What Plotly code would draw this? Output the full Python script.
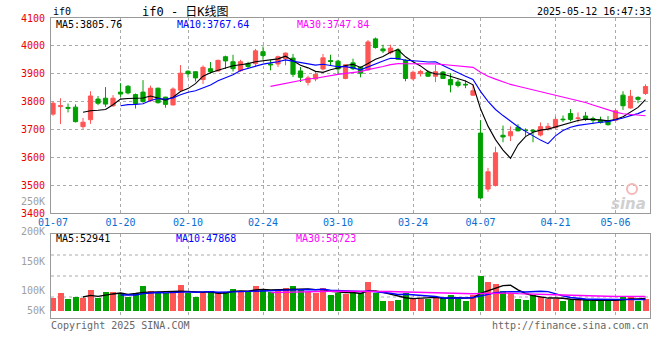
import plotly.graph_objects as go
import pandas as pd

# ---------------- data ----------------
dates = ["01-07","01-08","01-09","01-10","01-13","01-14","01-15","01-16","01-17",
         "01-20","01-21","01-22","01-23","01-24","01-27",
         "02-05","02-06","02-07","02-10","02-11","02-12","02-13","02-14",
         "02-17","02-18","02-19","02-20","02-21","02-24","02-25","02-26","02-27","02-28",
         "03-03","03-04","03-05","03-06","03-07","03-10","03-11","03-12","03-13","03-14",
         "03-17","03-18","03-19","03-20","03-21","03-24","03-25","03-26","03-27","03-28","03-31",
         "04-01","04-02","04-03","04-07","04-08","04-09","04-10","04-11",
         "04-14","04-15","04-16","04-17","04-18","04-21","04-22","04-23","04-24","04-25",
         "04-28","04-29","04-30","05-06","05-07","05-08","05-09","05-12"]

opens = [3755,3782,3779,3780,3710,3735,3809,3812,3785,3834,3855,3825,3834,3803,3848,
         3816,3788,3841,3909,3907,3879,3918,3910,3961,3943,3911,3936,3936,3979,3935,
         3935,3954,3956,3910,3869,3881,3917,3947,3945,3883,3939,3923,3914,4025,3989,
         3976,3986,3949,3882,3900,3905,3891,3906,3879,3870,3862,3823,3687,3486,3499,
         3679,3677,3708,3698,3697,3680,3704,3706,3737,3757,3739,3748,3739,3733,3731,
         3733,3823,3777,3815,3829]
highs = [3799,3812,3793,3790,3741,3837,3820,3852,3823,3866,3859,3829,3877,3857,3850,
         3817,3851,3931,3912,3909,3930,3942,3950,3965,3968,3950,3943,3989,3998,3950,
         3965,3976,3971,3924,3893,3908,3971,3968,3950,3932,3954,3926,4021,4030,4004,
         4004,3992,3952,3911,3914,3912,3931,3910,3902,3879,3876,3861,3733,3562,3638,
         3714,3711,3719,3704,3701,3725,3723,3746,3750,3773,3761,3763,3746,3746,3748,
         3773,3837,3842,3819,3862]
lows = [3749,3719,3761,3725,3702,3720,3787,3781,3781,3817,3826,3775,3796,3799,3793,
        3778,3786,3838,3886,3872,3863,3900,3907,3917,3908,3907,3918,3924,3950,3912,
        3924,3930,3888,3870,3858,3873,3912,3930,3899,3880,3913,3887,3911,3990,3974,
        3970,3950,3873,3876,3890,3888,3870,3881,3833,3851,3848,3821,3451,3476,3495,
        3654,3658,3693,3677,3654,3675,3695,3704,3727,3729,3725,3730,3719,3721,3714,
        3730,3770,3775,3794,3824]
closes = [3794,3785,3776,3728,3726,3820,3794,3791,3812,3827,3831,3793,3800,3848,3796,
          3790,3845,3902,3900,3885,3923,3907,3948,3946,3918,3943,3926,3982,3965,3932,
          3961,3974,3898,3887,3885,3898,3957,3944,3917,3932,3918,3902,4014,3994,3982,
          3992,3952,3883,3905,3908,3891,3907,3883,3860,3858,3860,3839,3454,3548,3616,
          3673,3692,3695,3696,3694,3710,3711,3736,3735,3736,3741,3737,3733,3725,3717,
          3767,3785,3819,3808,3854]
volumes = [54600,75600,50400,58800,54600,88200,56000,79800,79800,72800,58800,75600,105000,
           84000,74200,74200,75600,109200,74200,58800,75600,84000,79800,79800,92400,84000,
           79800,105000,92400,79800,88200,96600,105000,92400,79800,75600,96600,67200,75600,
           71400,77000,77000,121800,74200,42000,42000,46200,74200,56000,49000,49000,57400,
           56000,65800,49000,42000,65800,148400,121800,113400,84000,74200,50400,46200,67200,
           57400,50400,51800,42000,44800,44800,49000,42000,42000,42000,50400,57400,63000,
           42000,50400]

tick_labels = ["01-07","01-20","02-10","02-24","03-10","03-24","04-07","04-21","05-06"]
price_ticks = [3400, 3500, 3600, 3700, 3800, 3900, 4000, 4100]
vol_axis_labels = ["250K", "200K", "150K", "100K", "50K"]
price_ma_labels = ["MA5:3805.76", "MA10:3767.64", "MA30:3747.84"]
vol_ma_labels = ["MA5:52941", "MA10:47868", "MA30:58723"]
title_text = "if0 - 日K线图"
symbol_text = "if0"
time_text = "2025-05-12 16:47:33"
copyright_text = "Copyright 2025 SINA.COM"
url_text = "http://finance.sina.com.cn"

# ---------------- styling ----------------
RED = "#ff5555"
GREEN = "#00a000"
MA_COLORS = ["#000000", "#0000ff", "#ff00ff"]
GRID = "#aaaaaa"
BORDER = "#999999"
MONO = "DejaVu Sans Mono, Liberation Mono, monospace"

W, H = 660, 360
L, R, T, B = 51, 10, 18, 42
PW, PH = W - L - R, H - T - B


def px(xp, yp):
    return (xp - L) / PW, (H - B - yp) / PH


x = list(range(len(dates)))
cs = pd.Series(closes, dtype=float)
vs = pd.Series(volumes, dtype=float)
periods = [5, 10, 30]

fig = go.Figure()
fig.add_trace(go.Candlestick(
    x=x, open=opens, high=highs, low=lows, close=closes,
    increasing=dict(line=dict(color=RED, width=1), fillcolor=RED),
    decreasing=dict(line=dict(color=GREEN, width=1), fillcolor=GREEN),
    whiskerwidth=0, hoverinfo="skip", showlegend=False, xaxis="x", yaxis="y"))

for p, c in zip(periods, MA_COLORS):
    fig.add_trace(go.Scatter(x=x, y=cs.rolling(p).mean(), mode="lines",
                             line=dict(color=c, width=1.1), hoverinfo="skip",
                             showlegend=False, xaxis="x", yaxis="y"))

vcolors = [RED if c >= o else GREEN for o, c in zip(opens, closes)]
fig.add_trace(go.Bar(x=x, y=volumes, marker=dict(color=vcolors, line=dict(width=0)),
                     width=0.8, hoverinfo="skip", showlegend=False,
                     xaxis="x2", yaxis="y2"))
for p, c in zip(periods, MA_COLORS):
    fig.add_trace(go.Scatter(x=x, y=vs.rolling(p).mean(), mode="lines",
                             line=dict(color=c, width=1.4), hoverinfo="skip",
                             showlegend=False, xaxis="x2", yaxis="y2"))

tickvals = [dates.index(t) for t in tick_labels]
grid_vals = [v for v in tickvals if v > 0]
xr = [-0.27, 79.6]

common_x = dict(range=xr, showline=True, mirror=True, linecolor=BORDER, linewidth=1,
                showgrid=False, zeroline=False, fixedrange=True,
                minor=dict(tickmode="array", tickvals=grid_vals, showgrid=True,
                           gridcolor=GRID, griddash="dot", gridwidth=1, ticks=""))

fig.update_layout(
    width=W, height=H, margin=dict(l=L, r=R, t=T, b=B),
    paper_bgcolor="white", plot_bgcolor="white", showlegend=False,
    bargap=0, boxgap=0.2,
    xaxis=dict(domain=[0, 1], anchor="y", tickmode="array", tickvals=tickvals,
               ticktext=tick_labels, tickfont=dict(family=MONO, size=10, color="#0a6ed1"),
               ticks="", rangeslider=dict(visible=False), **common_x),
    xaxis2=dict(domain=[0, 1], anchor="y2", matches="x", showticklabels=False,
                ticks="", **common_x),
    yaxis=dict(domain=[0.35, 1], range=[3400, 4100], tickmode="array",
               tickvals=price_ticks, tickfont=dict(family=MONO, size=10, color="#ee0000"),
               ticks="", ticklabelstandoff=3, showgrid=True, gridcolor=GRID,
               griddash="dot", gridwidth=1, zeroline=False, showline=True,
               mirror=True, linecolor=BORDER, linewidth=1, fixedrange=True),
    yaxis2=dict(domain=[0, 0.28], range=[-29400, 323400], showticklabels=False,
                showgrid=False, zeroline=False, showline=True, mirror=True,
                linecolor=BORDER, linewidth=1, ticks="", fixedrange=True),
)

# volume panel gridlines
for f in [0.25, 0.5, 0.75]:
    fig.add_shape(type="line", xref="paper", yref="y2 domain", x0=0, x1=1, y0=f, y1=f,
                  line=dict(color=GRID, width=1, dash="dot"), layer="below")

# faint sina logo ring (watermark)
lx, ly = px(632, 189)
dx, dy = 5 / PW, 5 / PH
fig.add_shape(type="circle", xref="paper", yref="paper", x0=lx - dx, x1=lx + dx,
              y0=ly - dy, y1=ly + dy, line=dict(color="#f4b8b8", width=2))

ann = []


def add_text(txt, xp, yp, anchor="left", color="#000000", size=10, family=MONO, **kw):
    ax, ay = px(xp, yp)
    ann.append(dict(text=txt, x=ax, y=ay, xref="paper", yref="paper", xanchor=anchor,
                    yanchor="middle", showarrow=False,
                    font=dict(family=family, size=size, color=color), **kw))


add_text(symbol_text, 51, 12, size=10)
add_text(title_text, 140, 12, size=12, family="DejaVu Sans Mono, Noto Sans CJK SC")
add_text(time_text, 653, 12, anchor="right")
for lab, xp, c in zip(price_ma_labels, [54, 175, 295], MA_COLORS):
    add_text(lab, xp, 24, color=c)
for lab, xp, c in zip(vol_ma_labels, [54, 174, 294], MA_COLORS):
    add_text(lab, xp, 238, color=c)
for lab, yp in zip(vol_axis_labels, [201, 231, 261, 290, 310]):
    add_text(lab, 47, yp, anchor="right", color="#a0a0a0")
add_text(copyright_text, 49, 325, color="#666666")
add_text(url_text, 651, 325, anchor="right", color="#666666")
add_text("<b><i>sina</i></b>", 648, 204, anchor="right", color="#d0d0d0", size=15,
         family="DejaVu Sans, sans-serif")

fig.update_layout(annotations=ann)

fig.write_html("out.html", config={"displayModeBar": False, "staticPlot": True},
               post_script="document.body.style.margin='0';document.body.style.padding='0';")
